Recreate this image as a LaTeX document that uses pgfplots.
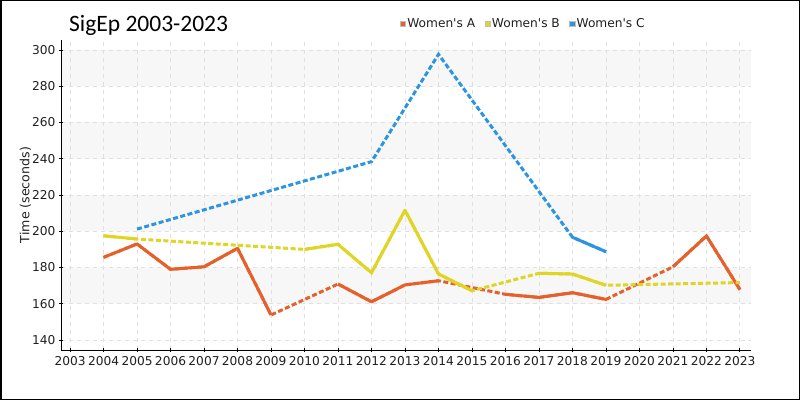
\documentclass[border=0pt]{standalone}
\usepackage{pgfplots}
\pgfplotsset{compat=1.18}
\usepackage{fontspec}
\setmainfont{DejaVu Sans}
\newfontfamily\titlefont{Carlito}
\definecolor{cA}{HTML}{E5602B}
\definecolor{cB}{HTML}{E0D424}
\definecolor{cC}{HTML}{2D95E0}
\definecolor{band}{HTML}{F7F7F7}
\definecolor{gridc}{HTML}{E0E0E0}
\begin{document}
\begin{tikzpicture}
\begin{axis}[
  set layers,
  scale only axis,
  width=690bp, height=310bp,
  at={(61bp,50bp)}, anchor=south west,
  xmin=2002.73, xmax=2023.33,
  ymin=134.5, ymax=305.5,
  axis x line*=bottom, axis y line*=left,
  axis line style={black, line width=0.8bp},
  xtick={2003,...,2023}, ytick={140,160,...,300},
  tick align=center, major tick length=4bp,
  tick style={black, line width=0.8bp},
  grid=major,
  grid style={gridc, line width=0.8bp, dash pattern=on 4bp off 4bp},
  /pgf/number format/assume math mode=true,
  /pgf/number format/1000 sep={},
  tick label style={font=\fontsize{12.2bp}{14bp}\selectfont, text=black!88},
  xticklabel style={yshift=-1bp},
  ylabel={Time (seconds)},
  ylabel style={at={(axis description cs:-0.0514,0.5)}, anchor=center, inner sep=0pt, font=\fontsize{12.6bp}{14bp}\selectfont, text=black!88},
  unbounded coords=jump,
  legend image code/.code={\draw[#1, draw=gray!50, line width=0.4bp] (0bp,-2.7bp) rectangle (5.4bp,2.7bp);},
  legend style={at={(axis description cs:0.491,1.052)}, anchor=west, draw=none, fill=none, inner sep=0pt,
    font=\fontsize{12.2bp}{14bp}\selectfont, text=black!88,
    nodes={inner sep=1.5bp},
    /tikz/every even column/.append style={column sep=8bp}},
  legend columns=3,
  legend cell align=left,
]
\addplot[forget plot, fill=band, draw=none, on layer=axis background] coordinates {(2002.73,160) (2023.33,160) (2023.33,180) (2002.73,180)} -- cycle;
\addplot[forget plot, fill=band, draw=none, on layer=axis background] coordinates {(2002.73,200) (2023.33,200) (2023.33,220) (2002.73,220)} -- cycle;
\addplot[forget plot, fill=band, draw=none, on layer=axis background] coordinates {(2002.73,240) (2023.33,240) (2023.33,260) (2002.73,260)} -- cycle;
\addplot[forget plot, fill=band, draw=none, on layer=axis background] coordinates {(2002.73,280) (2023.33,280) (2023.33,300) (2002.73,300)} -- cycle;
% Women's A
\addplot[forget plot, cA, line width=3bp, dash pattern=on 5bp off 2.5bp] coordinates {
 (2004,185.6) (2005,193) (2006,179) (2007,180.4) (2008,190.6) (2009,153.8) (2011,170.9) (2012,161.1) (2013,170.4) (2014,172.7) (2016,165.2) (2017,163.5) (2018,166.1) (2019,162.4) (2021,180.4) (2022,197.4) (2023,167.8)};
\addplot[forget plot, cA, line width=3bp, line join=round] coordinates {
 (2004,185.6) (2005,193) (2006,179) (2007,180.4) (2008,190.6) (2009,153.8) (2010,nan) (2011,170.9) (2012,161.1) (2013,170.4) (2014,172.7) (2015,nan) (2016,165.2) (2017,163.5) (2018,166.1) (2019,162.4) (2020,nan) (2021,180.4) (2022,197.4) (2023,167.8)};
% Women's B
\addplot[forget plot, cB, line width=3bp, dash pattern=on 5bp off 2.5bp] coordinates {
 (2004,197.5) (2005,195.7) (2010,190) (2011,192.8) (2012,177.1) (2013,211.6) (2014,176.4) (2015,167.2) (2017,176.8) (2018,176.4) (2019,170.2) (2023,171.7)};
\addplot[forget plot, cB, line width=3bp, line join=round] coordinates {
 (2004,197.5) (2005,195.7) (2007,nan) (2010,190) (2011,192.8) (2012,177.1) (2013,211.6) (2014,176.4) (2015,167.2) (2016,nan) (2017,176.8) (2018,176.4) (2019,170.2)};
% Women's C
\addplot[forget plot, cC, line width=3bp, dash pattern=on 5bp off 2.5bp] coordinates {
 (2005,201.2) (2012,238.4) (2014,297.6) (2018,196.7) (2019,188.7)};
\addplot[forget plot, cC, line width=3bp] coordinates {
 (2018,196.7) (2019,188.7)};
\addlegendimage{fill=cA}
\addlegendentry{Women\textquotesingle s A}
\addlegendimage{fill=cB}
\addlegendentry{Women\textquotesingle s B}
\addlegendimage{fill=cC}
\addlegendentry{Women\textquotesingle s C}
\end{axis}
\node[anchor=base west, inner sep=0pt, font=\titlefont\fontsize{23.5bp}{26bp}\selectfont] at (69bp,368.3bp) {SigEp 2003-2023};
\draw[black, line width=1.5bp] (0.75bp,0.75bp) rectangle (799.25bp,399.25bp);
\pgfresetboundingbox
\path[use as bounding box] (0,0) rectangle (800bp,400bp);
\end{tikzpicture}
\end{document}
